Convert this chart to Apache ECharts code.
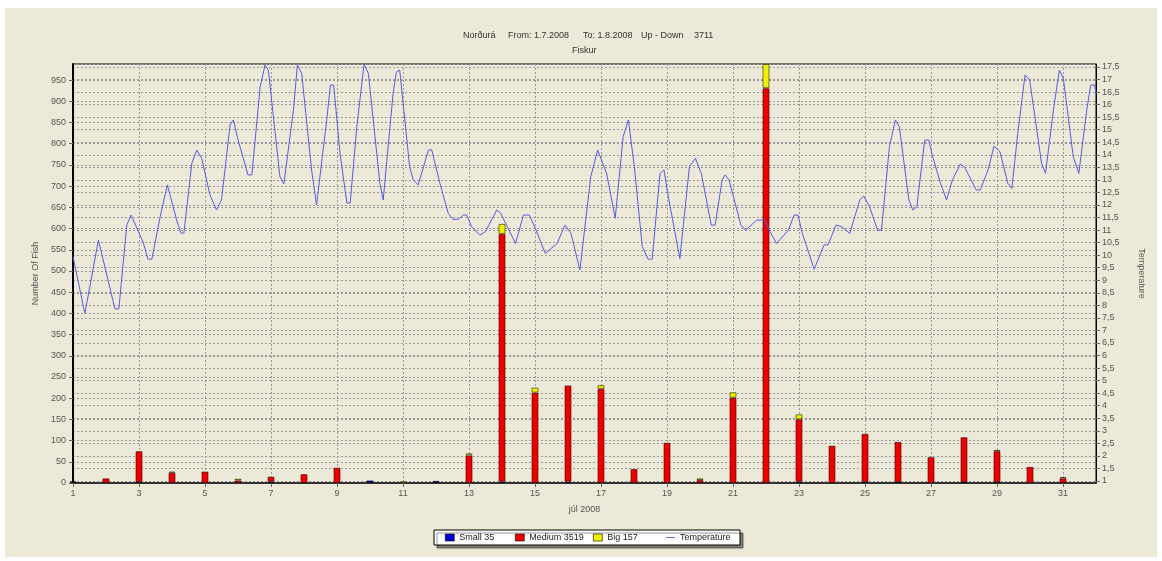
<!DOCTYPE html>
<html><head><meta charset="utf-8">
<script src="https://cdn.jsdelivr.net/npm/echarts@6/dist/echarts.min.js"></script>
<style>
html,body{margin:0;padding:0;background:#fff;overflow:hidden;}
#bg{position:absolute;left:5px;top:8px;width:1152px;height:549px;background:#ECE9D8;}
#chart{position:absolute;left:0;top:0;width:1162px;height:561px;}
</style></head><body><div id="bg"></div><div id="chart"></div>
<script>
// ---- data ----
const days = ['1','2','3','4','5','6','7','8','9','10','11','12','13','14','15','16','17','18','19','20','21','22','23','24','25','26','27','28','29','30','31','32'];
const small  = [2,0,2,0,0,0,3,0,0,6,0,5,0,3,0,3,0,0,0,0,0,0,3,0,2,2,0,2,2,0,0];
const medium = [0,11,73,24,27,6,12,21,36,0,0,0,65,584,213,227,222,33,95,7,201,931,147,88,114,95,61,106,73,38,11];
const big    = [2,0,0,3,0,4,0,0,0,0,4,0,5,24,12,0,9,0,0,4,13,57,12,0,0,0,0,0,3,0,3];
// temperature readings: time in days after 1 July 00:00, value in degrees
const tempTimes = [0,0.36,0.77,1.27,1.39,1.63,1.76,2.13,2.27,2.39,2.64,2.86,3.14,3.27,3.36,3.6,3.75,3.9,4.15,4.35,4.5,4.76,4.86,5.0,5.26,5.3,5.42,5.67,5.82,5.92,6.27,6.39,6.68,6.8,6.93,7.23,7.38,7.69,7.8,7.9,8.09,8.3,8.4,8.6,8.82,8.95,9.3,9.4,9.7,9.8,9.9,10.2,10.31,10.46,10.77,10.87,11.12,11.37,11.52,11.68,11.83,11.93,12.08,12.33,12.5,12.84,12.96,13.41,13.65,13.83,14.01,14.31,14.67,14.91,15.09,15.36,15.69,15.9,16.17,16.43,16.67,16.83,17.01,17.25,17.43,17.55,17.79,17.91,18.02,18.39,18.68,18.86,19.04,19.34,19.46,19.67,19.76,19.88,20.24,20.38,20.72,20.96,21.2,21.32,21.68,21.85,21.97,22.1,22.46,22.76,22.88,23.12,23.18,23.3,23.54,23.84,23.96,24.14,24.38,24.5,24.74,24.92,25.04,25.33,25.45,25.57,25.81,25.93,26.05,26.29,26.47,26.65,26.89,27.01,27.37,27.49,27.73,27.91,28.09,28.33,28.45,28.63,28.85,28.99,29.35,29.47,29.71,29.89,30.01,30.31,30.48,30.72,30.84,30.96,31.0];
const tempValues = [9.94,7.68,10.6,7.86,7.86,11.2,11.6,10.5,9.84,9.84,11.53,12.8,11.4,10.88,10.88,13.66,14.19,13.86,12.4,11.8,12.2,15.19,15.39,14.6,13.4,13.2,13.2,16.7,17.58,17.38,13.13,12.84,15.79,17.58,17.25,13.4,12.0,15.4,16.78,16.78,14.07,12.08,12.08,15.12,17.6,17.25,12.86,12.2,16.45,17.3,17.38,13.53,13.0,12.8,14.19,14.2,12.86,11.67,11.43,11.43,11.6,11.6,11.13,10.8,10.94,11.8,11.67,10.47,11.6,11.6,11.07,10.07,10.47,11.2,10.87,9.41,13.13,14.19,13.26,11.47,14.72,15.39,13.53,10.34,9.84,9.84,13.26,13.4,12.47,9.87,13.53,13.86,13.26,11.2,11.2,13.0,13.2,13.0,11.2,11.0,11.4,11.4,10.74,10.47,11.0,11.6,11.6,10.87,9.44,10.41,10.41,11.2,11.24,11.13,10.87,12.2,12.36,11.93,11.0,11.0,14.32,15.39,15.12,12.2,11.8,11.93,14.59,14.59,13.93,12.86,12.2,13.0,13.63,13.53,12.6,12.6,13.4,14.35,14.12,12.86,12.66,14.86,17.18,16.98,13.66,13.26,15.79,17.38,17.05,13.93,13.26,15.79,16.78,16.78,16.4];
// tick labels
const dayTickValues = [0,2,4,6,8,10,12,14,16,18,20,22,24,26,28,30];
const dayTickLabels = ['1','3','5','7','9','11','13','15','17','19','21','23','25','27','29','31'];
const fishTicks = [0,50,100,150,200,250,300,350,400,450,500,550,600,650,700,750,800,850,900,950];
const tempTicks = [1,1.5,2,2.5,3,3.5,4,4.5,5,5.5,6,6.5,7,7.5,8,8.5,9,9.5,10,10.5,11,11.5,12,12.5,13,13.5,14,14.5,15,15.5,16,16.5,17,17.5];
const tempTickLabels = ['1','1,5','2','2,5','3','3,5','4','4,5','5','5,5','6','6,5','7','7,5','8','8,5','9','9,5','10','10,5','11','11,5','12','12,5','13','13,5','14','14,5','15','15,5','16','16,5','17','17,5'];
const seriesNames = ['Small','Medium','Big','Temperature'];
const legendTotals = ['35','3519','157',''];
const titleParts = ['Norðurá','From: 1.7.2008','To: 1.8.2008','Up - Down','3711'];
const subTitle = 'Fiskur';

// ---- chart ----
const FONT = 'Liberation Sans';
const chart = echarts.init(document.getElementById('chart'), null, {renderer:'canvas'});
const nz = arr => arr.map(v => v === 0 ? null : v);
const gridDash = {type:[2,2], color:'#9a9a9a', width:1};
const titleX = [463, 508, 583, 641, 694];
const legendX = [445, 515, 593, 666];
const TEMP_COLOR = '#5a5ae0';

const option = {
  backgroundColor: 'transparent',
  animation: false,
  textStyle: {fontFamily: FONT},
  title: titleParts.map((t,i) => ({
    text: t, left: titleX[i], top: 31, padding: 0,
    textStyle: {fontSize: 9, fontWeight: 'normal', color: '#333', fontFamily: FONT}
  })).concat([{text: subTitle, left: 572, top: 46, padding: 0,
    textStyle: {fontSize: 9, fontWeight: 'normal', color: '#333', fontFamily: FONT}}]),
  graphic: [{
    type: 'rect', z: 0, silent: true,
    shape: {x: 434, y: 530, width: 306, height: 15},
    style: {fill: '#fff', stroke: '#000', lineWidth: 1,
      shadowColor: 'rgba(0,0,0,0.45)', shadowOffsetX: 3, shadowOffsetY: 3, shadowBlur: 1}
  }],
  legend: seriesNames.map((n,i) => ({
    data: [n], left: legendX[i], top: 533, padding: 0, itemGap: 0,
    itemWidth: 9, itemHeight: 7, z: 5,
    icon: i === 3 ? 'path://M0,3.2L10,3.2L10,4.2L0,4.2Z' : 'rect',
    itemStyle: i === 3 ? {color: TEMP_COLOR, borderWidth: 0, borderColor: TEMP_COLOR}
                       : {borderColor: '#000', borderWidth: 0.6},
    lineStyle: i === 3 ? {color: TEMP_COLOR, width: 1} : undefined,
    formatter: name => legendTotals[i] ? name + ' ' + legendTotals[i] : name,
    textStyle: {fontSize: 9, color: '#222', fontFamily: FONT}
  })),
  grid: {left: 73, right: 66, top: 64, bottom: 78, show: true,
    backgroundColor: 'transparent', borderColor: '#000', borderWidth: 1},
  xAxis: [{
    type: 'value', min: 0, max: 31, interval: 2,
    name: 'júl 2008', nameLocation: 'middle', nameGap: 22,
    nameTextStyle: {fontSize: 9, color: '#555', fontFamily: FONT},
    axisLine: {show: true, lineStyle: {color: '#333', width: 2}},
    axisTick: {show: true, length: 4, lineStyle: {color: '#666'}},
    axisLabel: {fontSize: 9, color: '#555', margin: 6, showMaxLabel: false,
      formatter: v => { const k = dayTickValues.indexOf(v); return k < 0 ? '' : dayTickLabels[k]; }},
    splitLine: {show: true, lineStyle: gridDash}
  }, {
    type: 'category', data: days, boundaryGap: false, show: false
  }],
  yAxis: [{
    type: 'value', min: 0, max: 988, interval: 50,
    name: 'Number Of Fish', nameLocation: 'middle', nameGap: 31,
    nameTextStyle: {fontSize: 9, color: '#555', fontFamily: FONT},
    axisLine: {show: true, lineStyle: {color: '#000', width: 2}},
    axisTick: {show: true, length: 4, lineStyle: {color: '#666'}},
    axisLabel: {fontSize: 9, color: '#555', margin: 7, showMaxLabel: false,
      formatter: v => { const k = fishTicks.indexOf(v); return k < 0 ? '' : String(fishTicks[k]); }},
    splitLine: {show: true, lineStyle: gridDash}
  }, {
    type: 'value', min: 0.92, max: 17.62, position: 'right',
    name: 'Temperature', nameLocation: 'middle', nameGap: 41, nameRotate: -90,
    nameTextStyle: {fontSize: 9, color: '#555', fontFamily: FONT},
    axisLine: {show: true, lineStyle: {color: '#000', width: 1}},
    axisTick: {show: true, length: 4, customValues: tempTicks, lineStyle: {color: '#666'}},
    axisLabel: {fontSize: 9, color: '#555', margin: 6, customValues: tempTicks,
      formatter: v => { const k = tempTicks.indexOf(v); return k < 0 ? '' : tempTickLabels[k]; }},
    splitLine: {show: true, lineStyle: gridDash}
  }],
  series: [
    {name: 'Small', type: 'bar', stack: 'fish', xAxisIndex: 1, barWidth: 7, data: nz(small),
      itemStyle: {color: '#0000d8', borderColor: 'rgba(0,0,0,0.6)', borderWidth: 1}},
    {name: 'Medium', type: 'bar', stack: 'fish', xAxisIndex: 1, barWidth: 7, data: nz(medium),
      itemStyle: {color: '#ec0000', borderColor: 'rgba(60,0,0,0.6)', borderWidth: 1}},
    {name: 'Big', type: 'bar', stack: 'fish', xAxisIndex: 1, barWidth: 7, data: nz(big),
      itemStyle: {color: '#f0f000', borderColor: 'rgba(0,0,0,0.5)', borderWidth: 1}},
    {name: 'Temperature', type: 'line', xAxisIndex: 0, yAxisIndex: 1, symbol: 'none', showSymbol: false,
      data: tempTimes.map((t,i) => [t, tempValues[i]]),
      lineStyle: {color: TEMP_COLOR, width: 1}, itemStyle: {color: TEMP_COLOR}, z: 3}
  ]
};
chart.setOption(option);
</script></body></html>
